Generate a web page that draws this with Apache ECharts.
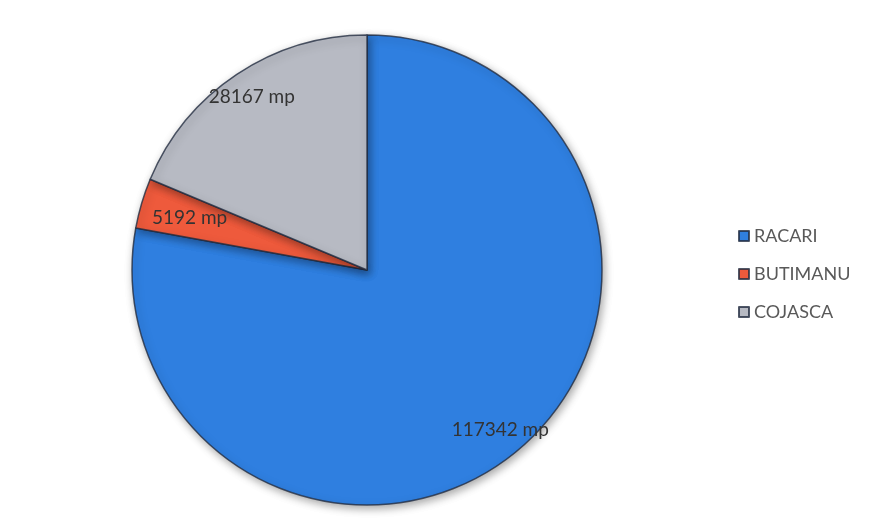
<!DOCTYPE html>
<html>
<head>
<meta charset="utf-8">
<script src="https://cdn.jsdelivr.net/npm/echarts@6/dist/echarts.min.js"></script>
<style>
html,body{margin:0;padding:0;background:#fff;}
#chart{width:870px;height:528px;}
</style>
</head>
<body>
<div id="chart"></div>
<script>
const categories = ['RACARI', 'BUTIMANU', 'COJASCA'];
const values = [117342, 5192, 28167];
const unit = 'mp';
const colors = ['#2F7FE0', '#EE5A3C', '#B7BAC3'];

const chart = echarts.init(document.getElementById('chart'));
const pieData = categories.map((c, i) => ({
  name: c,
  value: values[i],
  itemStyle: {color: colors[i]}
}));
const labelData = categories.map((c, i) => ({
  name: c,
  value: values[i],
  label: i === 1 ? {offset: [22, 7]} : {}
}));

chart.setOption({
  backgroundColor: '#ffffff',
  color: colors,
  legend: {
    orient: 'vertical',
    left: 733,
    top: 222,
    itemWidth: 10,
    itemHeight: 10,
    itemGap: 20,
    icon: 'rect',
    data: categories,
    textStyle: {fontFamily: 'Lato', fontSize: 18, color: '#595959'}
  },
  series: [
    {
      type: 'pie',
      center: [367, 270],
      radius: [0, 235],
      startAngle: 90,
      clockwise: true,
      silent: true,
      label: {show: false},
      labelLine: {show: false},
      itemStyle: {
        borderColor: 'rgba(35,45,65,0.8)',
        borderWidth: 1.5,
        shadowBlur: 8,
        shadowColor: 'rgba(0,0,0,0.35)',
        shadowOffsetX: 2,
        shadowOffsetY: 3
      },
      data: pieData
    },
    {
      type: 'pie',
      center: [367, 270],
      radius: [175, 235],
      startAngle: 90,
      clockwise: true,
      silent: true,
      legendHoverLink: false,
      itemStyle: {color: 'rgba(0,0,0,0)', borderWidth: 0},
      labelLine: {show: false},
      label: {
        show: true,
        position: 'inside',
        formatter: p => p.value + ' ' + unit,
        fontFamily: 'Lato',
        fontSize: 19,
        color: '#333333'
      },
      data: labelData
    }
  ]
});
</script>
</body>
</html>
